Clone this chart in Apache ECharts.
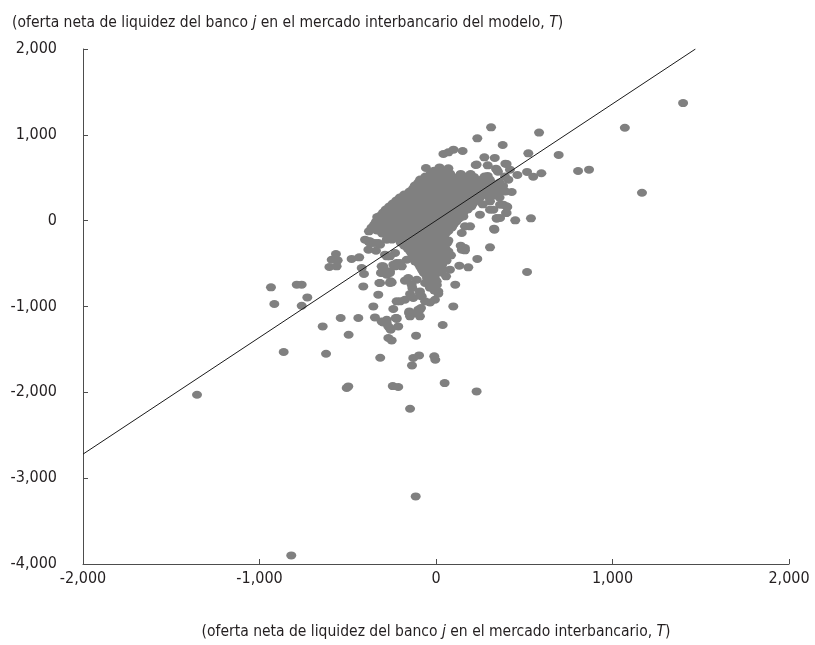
<!DOCTYPE html>
<html>
<head>
<meta charset="utf-8">
<script src="https://cdn.jsdelivr.net/npm/echarts@6/dist/echarts.min.js"></script>
<style>
html,body{margin:0;padding:0;background:#fff;}
#chart{width:815px;height:645px;}
</style>
</head>
<body>
<div id="chart"></div>
<script>
// Axis ticks
const xTicks = [-2000, -1000, 0, 1000, 2000];
const yTicks = [-4000, -3000, -2000, -1000, 0, 1000, 2000];

// Scattered points (x: interbank market net supply, y: model net supply)
const scatterOuter = [
  [1400,1370],[1070,1082],[1167,325],[584,1026],[695,766],[805,579],[867,594],[523,784],
  [378,882],[516,568],[597,552],[551,513],[461,532],[393,664],[419,594],[410,478],
  [429,334],[381,342],[381,186],[404,160],[397,90],[449,4],[538,27],[363,31],[516,-598],
  [312,1087],[234,959],[151,812],[99,827],[70,796],[42,777],[274,738],[333,731],[400,661],
  [225,649],[293,645],[340,606],[-57,614],[-10,583],[60,583],[51,533],[196,544],[293,521],
  [351,571],[391,516],[-15,458],[70,478],[146,486],[211,478],[274,490],[-109,388],[-185,272],
  [-119,276],[306,225],[363,186],[306,128],[249,70],[344,23],[329,-93],[146,50],[193,-66],
  [-333,43],[-380,-124],[-346,-97],[-261,-27],[-567,-388],[-591,-455],[-557,-462],[-604,-540],
  [-563,-532],[-478,-446],[-435,-427],[-374,-260],[-383,-338],[-327,-260],[-340,-350],
  [-279,-221],[-279,-416],[-421,-551],[-408,-621],[-298,-551],[-308,-602],[-261,-590],
  [-232,-532],[-223,-493],[-321,-726],[-261,-726],[-412,-766],[-327,-862],[-355,-999],
  [-242,-1029],[-223,-940],[-935,-777],[-789,-746],[-761,-746],[-729,-894],[-916,-971],
  [-761,-991],[-540,-1134],[-440,-1134],[-346,-1127],[-279,-1154],[-228,-1134],[-863,-1530],
  [-623,-1550],[-1354,-2028],[-506,-1950],[-497,-1931],[-642,-1232],[-495,-1329],[-316,-1597],
  [-245,-1927],[-214,-1938],[-308,-1174],[-279,-1193],[-261,-1251],[-270,-1367],[-251,-1395],
  [-223,-1146],[-214,-1232],[-113,-1340],[-129,-1600],[-96,-1570],[-10,-1581],[-4,-1620],
  [-136,-1686],[49,-1892],[230,-1989],[-147,-2191],[-115,-3213],[-820,-3900],
  [331,-105],[306,-311],[234,-446],[140,-291],[164,-346],[85,-404],[132,-524],[183,-544],
  [79,-571],[57,-649],[109,-746],[4,-707],[-10,-812],[13,-851],[-62,-726],[-6,-921],
  [-34,-952],[-62,-940],[-91,-851],[-134,-784],[-147,-854],[-129,-901],[-157,-668],
  [-176,-699],[-91,-1037],[-109,-1076],[-85,-1017],[98,-999],[38,-1216],[-147,-1115],
  [-151,-1057],[-270,-1233],[-257,-1270],[-257,-707],[-299,-610],[-279,-629],[-308,-532],
  [-194,-532],[-166,-455],[-119,-474],[-81,-513],[-44,-629],[-15,-649],[4,-571],[23,-493],
  [41,-571],[32,-376],[51,-318],[70,-358],[-289,-396],[-261,-416],[-232,-377],[-346,-260],
  [-317,-280],[-374,-241],[230,653],[344,594],[325,128],[400,167],[344,31],[400,90],
  [155,50],[164,-66],[146,-144],[146,-338],[164,-318],[-402,-221],[-383,-241],[-364,-260],
  [-299,-532],[-242,-513],[-204,-493],[-312,-610],[-261,-610],[-317,-726],[-251,-719],
  [-166,-688],[-138,-746],[-109,-688],[-91,-824],[-81,-882],[-204,-940],[-176,-921],
  [13,-824],[-153,-1076],[-100,-1037],[-91,-1115],[-223,-1134],[-299,-1185]
];

// Dense central cluster
const scatterCore = [
  [20,620],[70,610],
  [-30,550],[20,540],[80,550],[140,545],
  [-90,480],[-45,470],[0,485],[45,475],[90,480],[135,470],[195,480],[250,475],[305,480],
  [-120,410],[-75,400],[-30,410],[15,405],[60,410],[110,400],[155,410],[200,405],[245,410],[290,400],[335,410],[380,405],
  [-150,340],[-100,335],[-55,340],[-10,330],[35,340],[80,335],[125,340],[170,330],[215,340],[260,335],[305,340],[350,330],[395,340],
  [-205,270],[-160,265],[-115,270],[-70,260],[-25,270],[25,265],[70,270],[115,260],[160,270],[205,265],[250,270],[305,260],[360,270],
  [-245,200],[-200,195],[-155,200],[-110,190],[-60,200],[-15,195],[30,200],[75,190],[120,200],[165,195],[210,200],[265,190],
  [-285,130],[-240,125],[-195,130],[-145,120],[-100,130],[-55,125],[-10,130],[35,120],[80,130],[125,125],[180,130],
  [-315,60],[-270,55],[-225,60],[-180,50],[-135,60],[-90,55],[-45,60],[0,50],[45,60],[90,55],[135,60],
  [-340,-10],[-295,-15],[-250,-10],[-205,-20],[-160,-10],[-115,-15],[-70,-10],[-25,-20],[25,-10],[70,-15],[115,-10],
  [-365,-80],[-315,-85],[-270,-80],[-225,-90],[-180,-80],[-135,-85],[-90,-80],[-45,-90],[0,-80],[45,-85],[90,-80],
  [-305,-150],[-260,-155],[-215,-150],[-170,-160],[-125,-150],[-80,-155],[-35,-150],[10,-160],[55,-150],
  [-250,-220],[-205,-225],[-160,-220],[-115,-230],[-70,-220],[-25,-225],[25,-220],[70,-230],
  [-180,-290],[-135,-295],[-90,-290],[-45,-300],[0,-290],[45,-295],
  [-145,-360],[-100,-365],[-55,-360],[-10,-370],[35,-360],
  [-125,-430],[-80,-435],[-35,-430],[10,-440],[55,-430],
  [-100,-500],[-55,-505],[-10,-500],[35,-510],
  [-80,-570],[-35,-575],[10,-570],
  [-55,-640],[-10,-645],
  [-45,-710],[0,-715],
  [-35,-780]
];

// Interleaved cluster points (filling gaps in the dense core)
const scatterCoreFill = [
  [-60,515],[-10,510],[45,515],[100,505],[160,515],[215,510],[275,515],
  [-100,445],[-55,440],[-5,445],[40,435],[85,445],[130,440],[180,445],[225,435],[270,445],[315,440],[360,445],
  [-130,375],[-80,370],[-35,375],[10,365],[60,375],[100,370],[150,375],[195,365],[240,375],[285,370],[330,375],[375,365],
  [-180,305],[-130,300],[-85,305],[-40,295],[10,305],[55,300],[100,305],[145,295],[190,305],[235,300],[280,305],[330,300],
  [-225,235],[-180,230],[-135,235],[-85,225],[-40,235],[5,230],[50,235],[95,225],[140,235],[185,230],[235,235],
  [-265,165],[-220,160],[-175,165],[-130,155],[-80,165],[-35,160],[10,165],[55,155],[100,165],[145,160],[200,165],
  [-300,95],[-255,90],[-210,95],[-160,85],[-115,95],[-70,90],[-25,95],[20,85],[65,95],[110,90],[155,95],
  [-325,25],[-280,20],[-235,25],[-190,15],[-145,25],[-100,20],[-55,25],[-5,15],[40,25],[85,20],[130,25],
  [-350,-45],[-305,-50],[-260,-45],[-215,-55],[-170,-45],[-125,-50],[-80,-45],[-35,-55],[10,-45],[55,-50],[100,-45],
  [-335,-115],[-290,-120],[-245,-115],[-200,-125],[-155,-115],[-110,-120],[-65,-115],[-20,-125],[25,-115],[70,-120],
  [-275,-185],[-230,-190],[-185,-185],[-140,-195],[-95,-185],[-50,-190],[0,-185],[45,-195],
  [-200,-255],[-155,-260],[-110,-255],[-65,-265],[-20,-255],[25,-260],[65,-255],
  [-160,-325],[-115,-330],[-70,-325],[-25,-335],[20,-325],[55,-330],
  [-135,-395],[-90,-400],[-45,-395],[0,-405],[40,-395],
  [-110,-465],[-65,-470],[-20,-465],[25,-475],[60,-465],
  [-90,-535],[-45,-540],[0,-535],[30,-545],
  [-70,-605],[-25,-610],[15,-605],
  [-50,-675],[-5,-680],
  [-40,-745],[5,-750]
];

// Fitted line endpoints
const fitLine = [[-2000,-2720],[1470,2000]];

const FONT = '"Liberation Sans Narrow","DejaVu Sans Condensed","Roboto Condensed",sans-serif';
const fmt = v => {
  const s = Math.abs(v).toString().replace(/\B(?=(\d{3})+(?!\d))/g, ',');
  return (v < 0 ? '-' : '') + s;
};

const chart = echarts.init(document.getElementById('chart'), null, {renderer:'canvas'});
chart.setOption({
  animation: false,
  backgroundColor: '#ffffff',
  title: {
    text: '(oferta neta de liquidez del banco {i|j} en el mercado interbancario del modelo, {i|T})',
    left: 7, top: 10,
    textStyle: {
      fontFamily: FONT, fontSize: 15.5, fontWeight: 'normal', color: '#231f20',
      rich: { i: { fontFamily: FONT, fontSize: 15.5, fontStyle: 'italic', color: '#231f20' } }
    }
  },
  grid: { left: 83, right: 26, top: 49, bottom: 72, containLabel: false },
  xAxis: {
    type: 'value', min: xTicks[0], max: xTicks[xTicks.length-1], interval: 1000,
    name: '(oferta neta de liquidez del banco {i|j} en el mercado interbancario, {i|T})',
    nameLocation: 'middle', nameGap: 60,
    nameTextStyle: {
      fontFamily: FONT, fontSize: 15.5, color: '#231f20',
      rich: { i: { fontFamily: FONT, fontSize: 15.5, fontStyle: 'italic', color: '#231f20' } }
    },
    axisLine: { show: true, onZero: false, lineStyle: { color: '#4d4d4d', width: 1 } },
    axisTick: { show: true, inside: true, length: 5, lineStyle: { color: '#4d4d4d' } },
    axisLabel: { formatter: fmt, fontFamily: FONT, fontSize: 16, color: '#231f20', margin: 7 },
    splitLine: { show: false }
  },
  yAxis: {
    type: 'value', min: yTicks[0], max: yTicks[yTicks.length-1], interval: 1000,
    axisLine: { show: true, onZero: false, lineStyle: { color: '#4d4d4d', width: 1 } },
    axisTick: { show: true, inside: true, length: 5, lineStyle: { color: '#4d4d4d' } },
    axisLabel: { formatter: fmt, fontFamily: FONT, fontSize: 16, color: '#231f20', margin: 26 },
    splitLine: { show: false }
  },
  series: [
    {
      type: 'scatter', data: scatterOuter.concat(scatterCore, scatterCoreFill),
      symbol: 'circle', symbolSize: [10, 8],
      itemStyle: { color: '#808080', opacity: 1 },
      z: 2
    },
    {
      type: 'line', data: fitLine, showSymbol: false, symbol: 'none',
      lineStyle: { color: '#1a1a1a', width: 1 },
      z: 3
    }
  ]
});
</script>
</body>
</html>
